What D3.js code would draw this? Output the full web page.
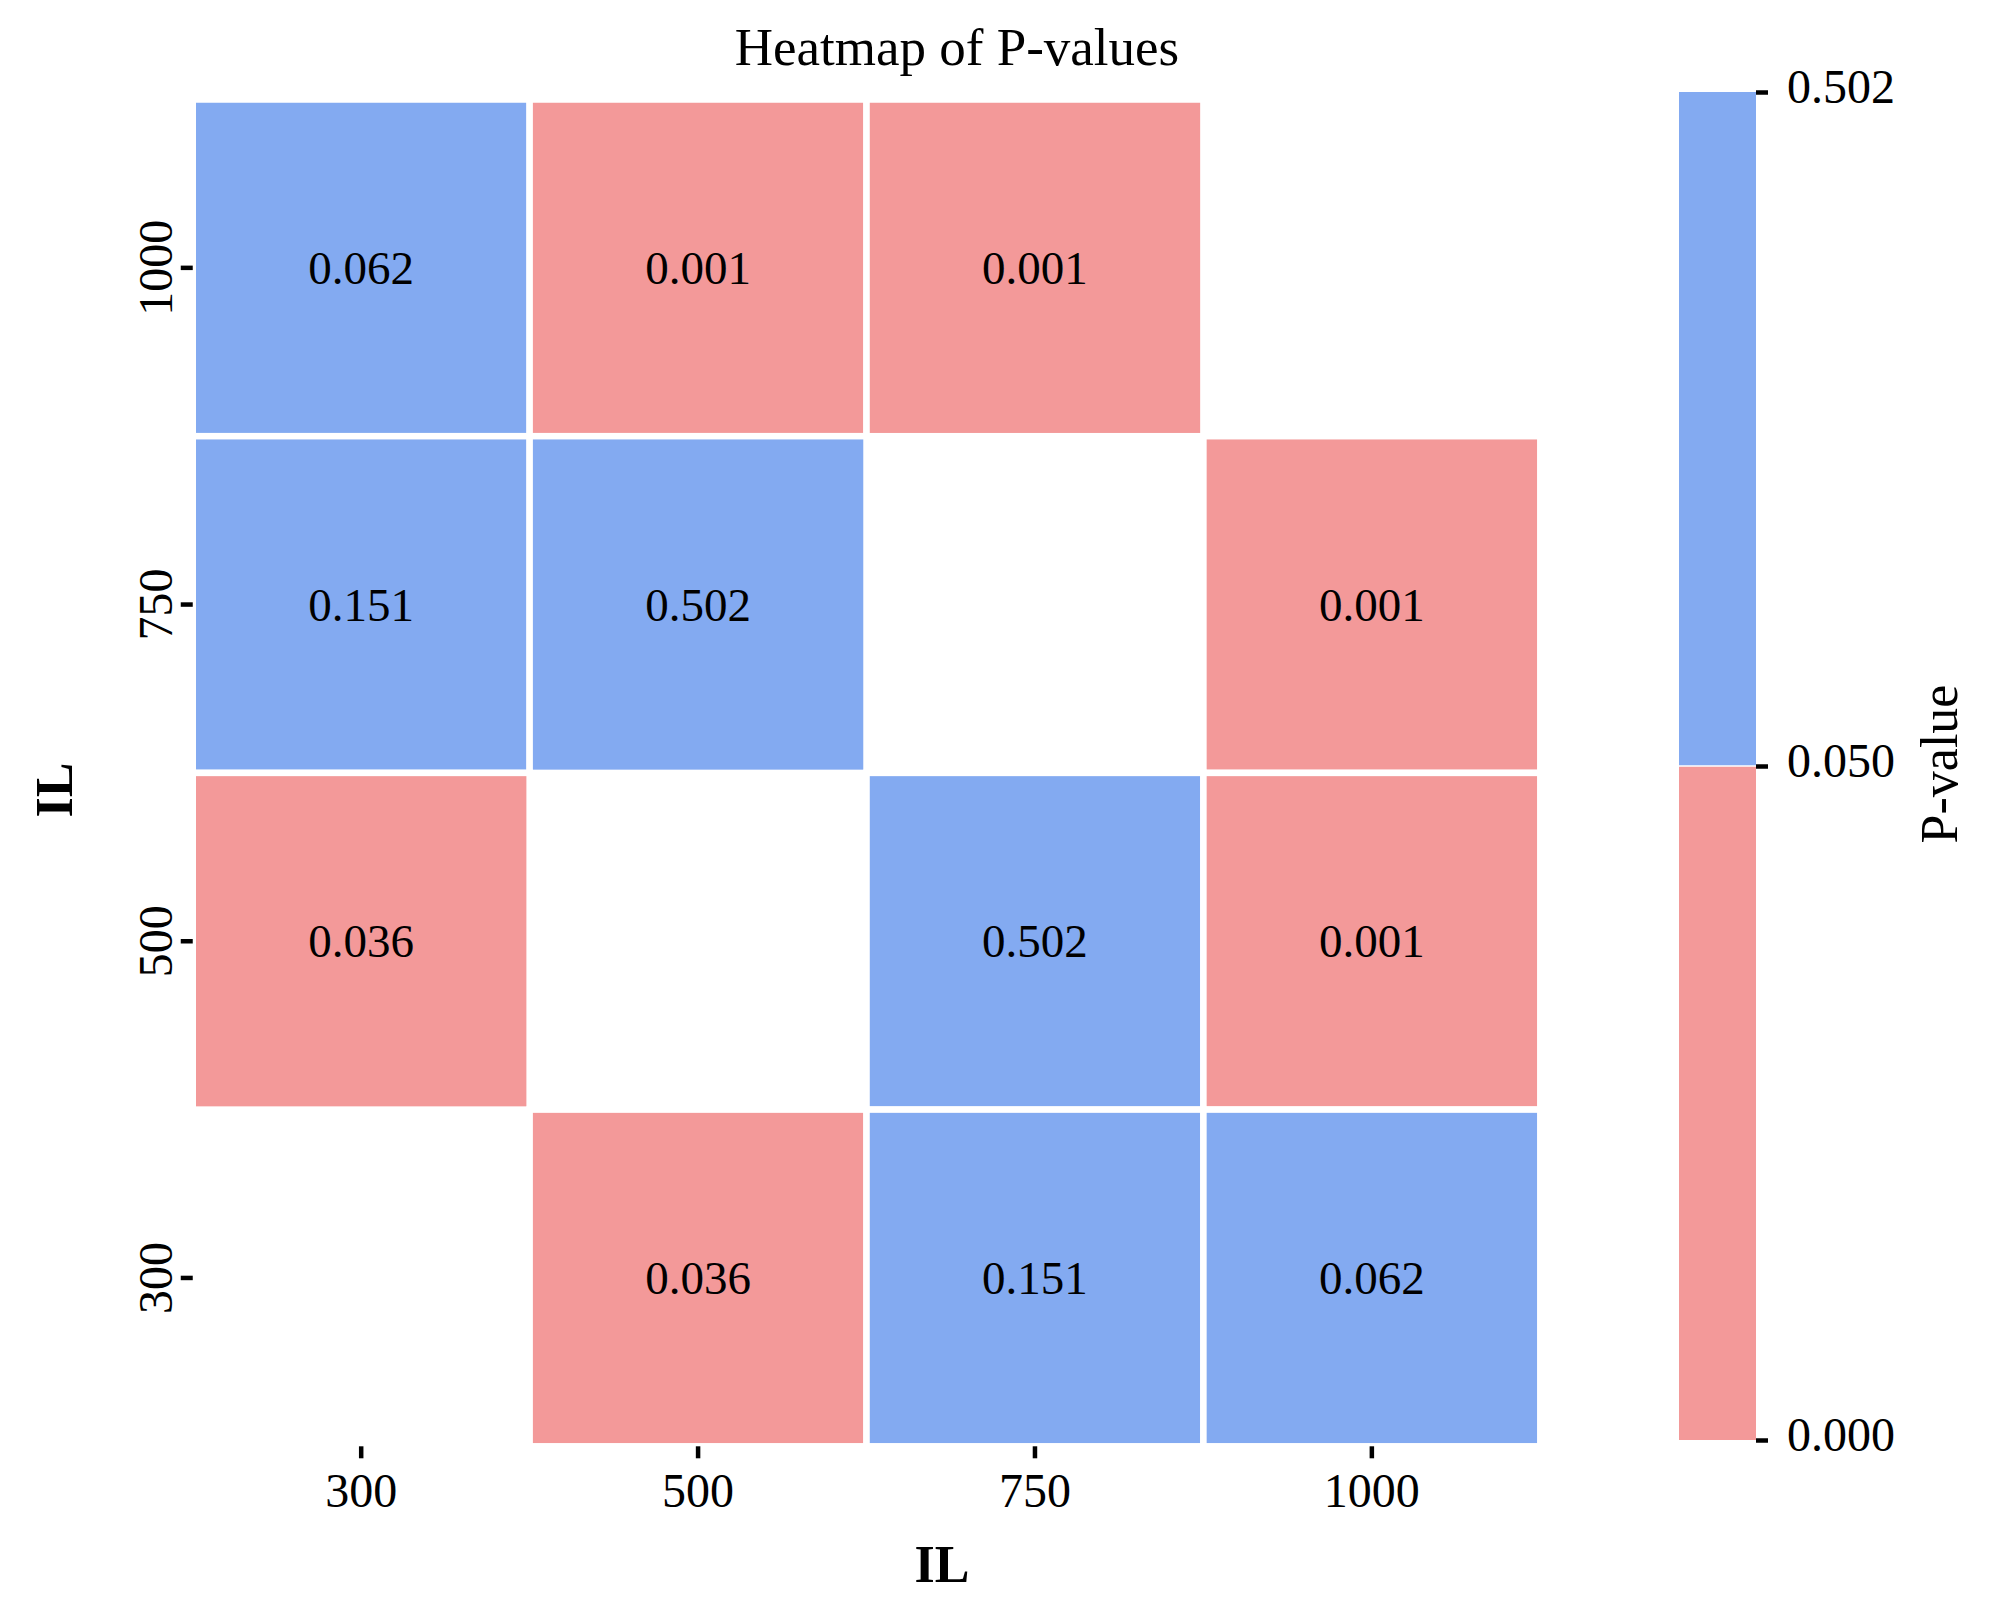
<!DOCTYPE html>
<html>
<head>
<meta charset="utf-8">
<script src="https://cdn.jsdelivr.net/npm/d3@7"></script>
<style>
  body { margin: 0; background: #fff; }
  svg text { font-family: "Liberation Serif", "Times New Roman", serif; fill: #000; }
</style>
</head>
<body>
<svg id="chart" width="2000" height="1608"></svg>
<script>
// data
const xCats = ["300", "500", "750", "1000"];
const yCats = ["1000", "750", "500", "300"];
const pValues = [
  [0.062, 0.001, 0.001, null],
  [0.151, 0.502, null, 0.001],
  [0.036, null, 0.502, 0.001],
  [null, 0.036, 0.151, 0.062]
];
const cbTicks = [0, 0.05, 0.502];
const threshold = 0.05;

const pink = "#f39999";
const blue = "#83aaf1";

const svg = d3.select("#chart");

// layout
const plotLeft = 192.75, plotRight = 1540.3, plotTop = 99.5, plotBottom = 1446.3;

const x = d3.scaleBand().domain(xCats).range([plotLeft, plotRight]);
const y = d3.scaleBand().domain(yCats).range([plotTop, plotBottom]);
const color = d3.scaleThreshold().domain([threshold]).range([pink, blue]);

const cells = [];
pValues.forEach((row, i) => {
  row.forEach((v, j) => {
    if (v !== null) cells.push({ xc: xCats[j], yc: yCats[i], v: v });
  });
});

// cells
svg.append("g").selectAll("rect")
  .data(cells)
  .enter()
  .append("rect")
  .attr("x", d => x(d.xc))
  .attr("y", d => y(d.yc))
  .attr("width", x.bandwidth())
  .attr("height", y.bandwidth())
  .attr("fill", d => color(d.v))
  .attr("stroke", "#fff")
  .attr("stroke-width", 6.5);

// annotations
svg.append("g").selectAll("text")
  .data(cells)
  .enter()
  .append("text")
  .attr("x", d => x(d.xc) + x.bandwidth() / 2)
  .attr("y", d => y(d.yc) + y.bandwidth() / 2)
  .attr("text-anchor", "middle")
  .attr("dominant-baseline", "central")
  .style("font-size", "47px")
  .text(d => d3.format(".3f")(d.v));

// axes
const xAxis = svg.append("g")
  .attr("transform", `translate(0,${plotBottom})`)
  .call(d3.axisBottom(x).tickSize(12).tickPadding(0));
xAxis.select(".domain").remove();
xAxis.selectAll("line").attr("stroke", "#000").attr("stroke-width", 4.5);
xAxis.selectAll("text")
  .attr("y", 61)
  .attr("dy", 0)
  .style("font-size", "48px");

const yAxis = svg.append("g")
  .attr("transform", `translate(${plotLeft},0)`)
  .call(d3.axisLeft(y).tickSize(12).tickPadding(0));
yAxis.select(".domain").remove();
yAxis.selectAll("line").attr("stroke", "#000").attr("stroke-width", 4.5);
yAxis.selectAll("text")
  .attr("transform", "rotate(-90)")
  .attr("x", 0)
  .attr("y", -26)
  .attr("dy", "0.1em")
  .attr("text-anchor", "middle")
  .style("font-size", "48px");

// title + labels
svg.append("text")
  .attr("x", 957)
  .attr("y", 65)
  .attr("text-anchor", "middle")
  .style("font-size", "53px")
  .text("Heatmap of P-values");

svg.append("text")
  .attr("x", 942)
  .attr("y", 1582)
  .attr("text-anchor", "middle")
  .style("font-size", "52px")
  .style("font-weight", "bold")
  .text("IL");

svg.append("text")
  .attr("transform", "translate(72,790) rotate(-90)")
  .attr("text-anchor", "middle")
  .style("font-size", "52px")
  .style("font-weight", "bold")
  .text("IL");

// colorbar
const cbLeft = 1679, cbWidth = 77;
const cbScale = d3.scaleLinear().domain(cbTicks).range([1440, 766, 92]);

const segments = [
  { lo: cbTicks[0], hi: cbTicks[1] },
  { lo: cbTicks[1], hi: cbTicks[2] }
];

svg.append("g").selectAll("rect")
  .data(segments)
  .enter()
  .append("rect")
  .attr("x", cbLeft)
  .attr("y", d => cbScale(d.hi))
  .attr("width", cbWidth)
  .attr("height", d => cbScale(d.lo) - cbScale(d.hi))
  .attr("fill", d => color(d.lo));

svg.append("line")
  .attr("x1", cbLeft)
  .attr("x2", cbLeft + cbWidth)
  .attr("y1", cbScale(threshold))
  .attr("y2", cbScale(threshold))
  .attr("stroke", "#fff")
  .attr("stroke-width", 1.5);

const cbAxis = svg.append("g")
  .attr("transform", `translate(${cbLeft + cbWidth},0)`)
  .call(d3.axisRight(cbScale).tickValues(cbTicks).tickFormat(d3.format(".3f")).tickSize(12).tickPadding(19));
cbAxis.select(".domain").remove();
cbAxis.selectAll("line").attr("stroke", "#000").attr("stroke-width", 4.5);
cbAxis.selectAll("text")
  .attr("dy", "0.22em")
  .style("font-size", "48px");

svg.append("text")
  .attr("transform", "translate(1957,764) rotate(-90)")
  .attr("text-anchor", "middle")
  .style("font-size", "52px")
  .text("P-value");
</script>
</body>
</html>
